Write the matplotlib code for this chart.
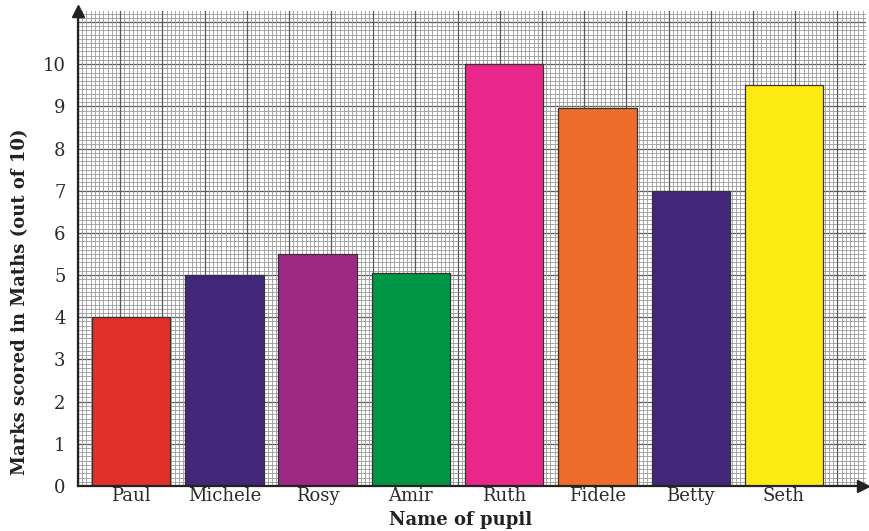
import numpy as np
import matplotlib
matplotlib.use("Agg")
import matplotlib.pyplot as plt

pupils = ["Paul", "Michele", "Rosy", "Amir", "Ruth", "Fidele", "Betty", "Seth"]
marks = [4, 5, 5.5, 5.05, 10, 8.95, 7, 9.5]
colors = ["#E1302A", "#42267A", "#9D2A82", "#009445", "#E9278A", "#EE6D2A", "#42267A", "#FFEB14"]
yticks = list(range(0, 11))

W, H = 869, 531
fig = plt.figure(figsize=(W / 100, H / 100), dpi=100)
left_px, right_px, top_px, bottom_px = 78, 866, 11, 486
ax = fig.add_axes([left_px / W, 1 - bottom_px / H, (right_px - left_px) / W, (bottom_px - top_px) / H])

x = np.arange(len(pupils))
xlo, xhi = -0.57, 7.88
ylo, yhi = 0, 11.26
ax.set_xlim(xlo, xhi)
ax.set_ylim(ylo, yhi)

# graph-paper grid
ypx_per_unit = (bottom_px - top_px) / (yhi - ylo)
xpx_per_unit = (right_px - left_px) / (xhi - xlo)
dy = 0.1
dx = dy * ypx_per_unit / xpx_per_unit
for k, yy in enumerate(np.arange(0, yhi + 1e-9, dy)):
    major = (k % 10 == 0)
    ax.axhline(yy, color="#5a5a5a" if major else "#9a9a9a", lw=0.9 if major else 0.6, zorder=0)
for k, xx in enumerate(np.arange(xlo, xhi + 1e-9, dx)):
    major = (k % 10 == 0)
    ax.axvline(xx, color="#5a5a5a" if major else "#9a9a9a", lw=0.9 if major else 0.6, zorder=0)

ax.bar(x, marks, width=0.84, color=colors, edgecolor="#333333", linewidth=0.9, zorder=3)

for s in ["top", "right"]:
    ax.spines[s].set_visible(False)
for s in ["left", "bottom"]:
    ax.spines[s].set_color("#222222")
    ax.spines[s].set_linewidth(1.6)
    ax.spines[s].set_zorder(5)

ax.set_xticks(x)
ax.set_xticklabels(pupils, family="DejaVu Serif", fontsize=13, color="#2a2a2a")
ax.set_yticks(yticks)
ax.set_yticklabels([str(v) for v in yticks], family="DejaVu Serif", fontsize=13, color="#2a2a2a")
ax.tick_params(axis="y", length=0, pad=9)
ax.tick_params(axis="x", length=0, pad=1)

ax.set_xlabel("Name of pupil", family="DejaVu Serif", fontweight="bold", fontsize=13, color="#222222")
ax.set_ylabel("Marks scored in Maths (out of 10)", family="DejaVu Serif", fontweight="bold", fontsize=13, color="#222222")
ax.xaxis.set_label_coords(0.485, -0.053)
ax.yaxis.set_label_coords(-0.062, 0.387)

# arrowheads
ax.plot([xlo], [yhi], marker="^", color="#222222", markersize=8, clip_on=False, zorder=6)
ax.plot([xhi - 0.03], [0], marker=">", color="#222222", markersize=8, clip_on=False, zorder=6)

fig.savefig("out.png", dpi=100)
